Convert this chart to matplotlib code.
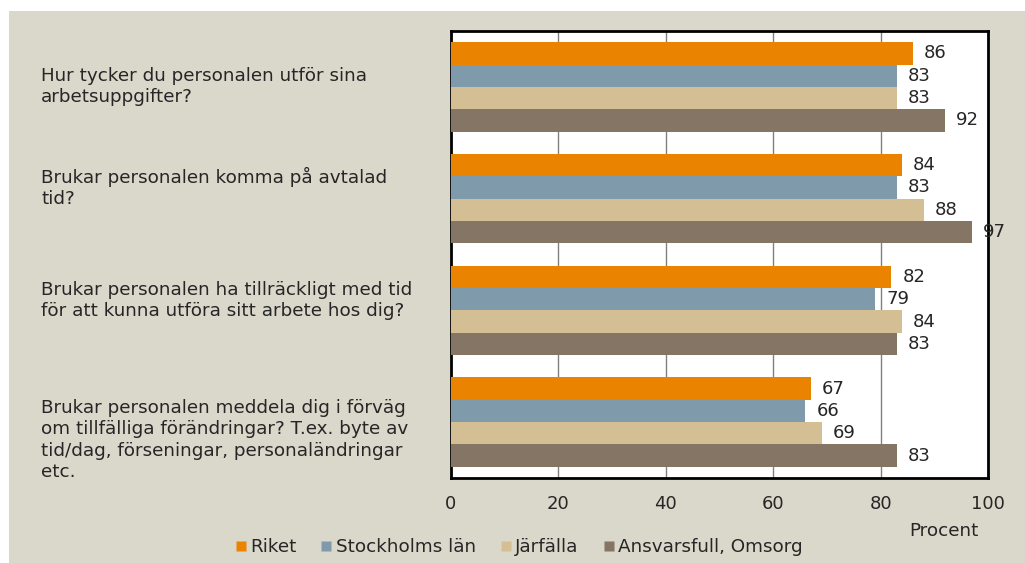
import matplotlib
matplotlib.use("Agg")
import matplotlib.pyplot as plt
import matplotlib.patches as mpatches
from matplotlib.lines import Line2D
import numpy as np

categories = [
    "Hur tycker du personalen utför sina\narbetsuppgifter?",
    "Brukar personalen komma på avtalad\ntid?",
    "Brukar personalen ha tillräckligt med tid\nför att kunna utföra sitt arbete hos dig?",
    "Brukar personalen meddela dig i förväg\nom tillfälliga förändringar? T.ex. byte av\ntid/dag, förseningar, personaländringar\netc.",
]
label_offsets = [0.0, -0.1, -0.09, 0.16]
series_names = ["Riket", "Stockholms län", "Järfälla", "Ansvarsfull, Omsorg"]
riket = [86, 84, 82, 67]
stockholm = [83, 83, 79, 66]
jarfalla = [83, 88, 84, 69]
ansvarsfull = [92, 97, 83, 83]
xticks = [0, 20, 40, 60, 80, 100]
colors = ["#E98300", "#7F9BAB", "#D4BF95", "#857564"]
text_color = "#262626"

plt.rcParams["font.family"] = ["DejaVu Sans"]

fig = plt.figure(figsize=(10.25, 5.63), dpi=100, facecolor="white")
fig.patches.append(mpatches.Rectangle((9 / 1025, 0), 1, 1 - 11 / 563,
                                      transform=fig.transFigure,
                                      facecolor="#DAD7CB", edgecolor="none", zorder=-10))

ax = fig.add_axes([451 / 1025, 1 - 478 / 563, (988 - 451) / 1025, (478 - 31) / 563])
ax.set_facecolor("white")

data = [riket, stockholm, jarfalla, ansvarsfull]
y = np.arange(len(categories))
h = 0.2
for i, (vals, name, c) in enumerate(zip(data, series_names, colors)):
    pos = y - 0.3 + i * h
    bars = ax.barh(pos, vals, height=h, color=c, edgecolor="none", label=name, zorder=3)
    ax.bar_label(bars, labels=[str(v) for v in vals], padding=8, fontsize=13,
                 color=text_color, zorder=5, clip_on=False)

ax.set_xlim(0, 100)
ax.set_ylim(3.5, -0.5)
ax.set_xticks(xticks)
ax.set_xticklabels([str(t) for t in xticks], fontsize=13, color=text_color)
ax.tick_params(axis="x", length=0, pad=12)
ax.set_yticks([])
ax.grid(axis="x", color="#808080", linewidth=1.0, zorder=1)
for s in ax.spines.values():
    s.set_color("black")
    s.set_linewidth(2)

trans = matplotlib.transforms.blended_transform_factory(fig.transFigure, ax.transData)
for yi, (lab, off) in enumerate(zip(categories, label_offsets)):
    ax.text(41 / 1025, yi + off, lab, transform=trans, ha="left", va="center",
            fontsize=13.2, color=text_color, linespacing=1.22)

handles = [Line2D([], [], marker="s", linestyle="none", markersize=7,
                  markerfacecolor=c, markeredgecolor="none") for c in colors]
fig.legend(handles, series_names, loc="center", bbox_to_anchor=(518 / 1025, 1 - 547 / 563),
           ncol=4, frameon=False, fontsize=13.2, handletextpad=0.1, columnspacing=1.25,
           labelcolor=text_color, handlelength=0.8)

fig.text(944 / 1025, 1 - 531 / 563, "Procent", ha="center", va="center",
         fontsize=13.2, color=text_color)

fig.savefig("out.png", dpi=100, facecolor=fig.get_facecolor())
